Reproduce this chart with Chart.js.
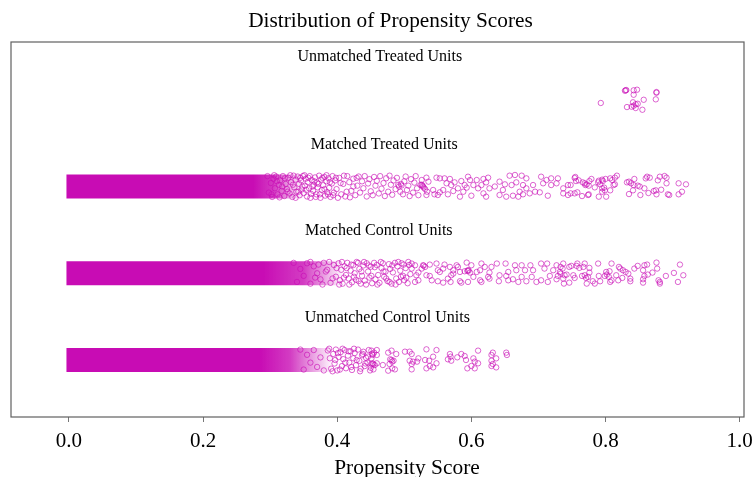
<!DOCTYPE html>
<html><head><meta charset="utf-8">
<style>html,body{margin:0;padding:0;background:#fff}#w{width:756px;height:477px}</style>
<script src="https://cdn.jsdelivr.net/npm/chart.js@4"></script></head>
<body><div id="w"><canvas id="c" width="756" height="477"></canvas></div>
<script>
const tickValues=[0,0.2,0.4,0.6,0.8,1.0];
const rowNames=['Unmatched Control Units','Matched Control Units','Matched Treated Units','Unmatched Treated Units'];
const chartTitle='Distribution of Propensity Scores';
const xTitle='Propensity Score';
// saturated part of each row: [end of solid region, end of strong region, end of the fading region]
const denseUnmatchedControl=[0.285,0.330,0.395];
const denseMatchedControl=[0.290,0.350,0.410];
const denseMatchedTreated=[0.275,0.305,0.350];
const denseStart=-0.004;
const denseHalfHeight=0.138;
// [propensity score, vertical jitter]
const unmatchedTreated=[[.793,-.037],[.830,.109],[.829,.104],[.831,.112],[.842,.109],[.847,.116],[.842,.058],[.876,.089],[.876,.081],[.857,0],[.875,.005],[.841,-.029],[.848,-.046],[.845,-.052],[.842,-.069],[.839,-.08],[.832,-.084],[.845,-.095],[.855,-.115]];
const matchedTreated=[
[.755,.11],[.754,.098],[.760,.071],[.756,.063],[.766,.048],[.769,.037],[.770,.017],[.772,.025],[.775,.01],[.779,.087],[.776,.063],[.784,-.01],[.790,.067],[.789,.048],[.795,.079],[.796,.063],[.792,.025],[.800,.087],[.807,.094],[.814,.102],[.817,.125],[.810,.075],[.814,.025],[.812,.017],[.795,-.021],[.798,-.013],[.807,-.044],[.795,-.06],[.799,-.044],[.748,.017],[.748,-.079],[.754,-.079],[.758,-.067],[.765,-.11],[.774,-.098],[.775,-.09],[.790,-.117],[.801,-.117],[.835,.056],[.832,.048],[.838,.037],[.843,.087],[.842,.017],[.848,.01],[.851,0],[.858,-.021],[.862,.113],[.860,.094],[.866,.102],[.881,.113],[.888,.121],[.878,.071],[.891,.102],[.891,.037],[.841,-.044],[.835,-.087],[.852,-.098],[.864,-.075],[.872,-.052],[.875,-.044],[.883,-.037],[.876,-.09],[.893,-.09],[.895,-.098],[.909,.037],[.920,.025],[.914,-.06],[.909,-.09],
[.526,.075],[.533,.102],[.536,.056],[.524,.017],[.528,0],[.531,-.029],[.534,-.06],[.543,-.04],[.545,-.09],[.550,-.098],[.553,-.067],[.548,.102],[.553,.094],[.560,.094],[.568,.087],[.563,.037],[.570,.017],[.575,.048],[.585,.063],[.590,.017],[.595,.113],[.598,.075],[.608,.075],[.618,.087],[.625,.102],[.603,.017],[.610,-.021],[.615,.017],[.622,.048],[.627,-.021],[.635,0],[.642,.056],[.650,.025],[.657,.125],[.665,.133],[.675,.125],[.682,.094],[.667,.048],[.660,.017],[.677,.017],[.682,-.021],[.692,.017],[.695,-.06],[.702,-.067],[.704,.113],[.712,.075],[.719,.094],[.729,.094],[.707,.037],[.719,.017],[.727,.037],[.737,-.021],[.744,.017],[.714,-.106],[.737,-.079],[.744,-.098],[.558,-.04],[.565,-.09],[.573,-.052],[.583,-.117],[.588,-.06],[.600,-.106],[.618,-.079],[.622,-.117],[.642,-.098],[.652,-.117],[.662,-.106],[.670,-.117],[.677,-.09],[.672,-.06],[.647,-.04],[.687,-.079],[.533,-.098],[.580,-.021],[.593,-.013],[.527,.01],[.529,-.013],[.526,.021],
[.296,.12],[.298,-.07],[.301,.04],[.303,-.12],[.305,.09],[.307,-.02],[.309,.115],[.311,-.09],[.313,.02],[.315,.07],[.317,-.05],[.319,.12],[.321,-.11],[.323,.03],[.325,-.03],[.327,.1],[.329,-.08],[.331,.05],[.333,-.12],[.335,.125],[.336,-.01],[.338,.08],[.339,-.06],
[.341,.115],[.343,.03],[.344,-.1],[.346,.07],[.347,-.035],[.349,.12],[.350,-.075],[.352,.01],[.353,.09],[.355,-.115],[.356,.05],[.358,-.02],[.359,.12],[.361,-.085],[.362,.075],[.364,-.05],[.365,.02],[.367,.105],[.368,-.12],[.370,.045],[.371,-.01],[.373,.125],[.374,-.09],[.376,.08],[.377,-.04],[.379,.015],[.381,.11],[.382,-.105],[.384,.06],[.385,-.065],[.387,.095],[.388,-.015],[.390,-.12],[.392,.035],[.393,.12],[.395,-.07],[.397,.07],[.399,-.03],
[.403,.1],[.406,-.09],[.409,.03],[.412,-.115],[.415,.12],[.418,.05],[.421,-.05],[.424,.09],[.427,-.1],[.430,.01],[.432,.115],[.434,-.07],[.437,.06],[.439,-.02],[.441,.12],[.444,-.115],[.446,.035],[.448,.085],[.450,-.055],[.453,-.1],[.455,.11],[.457,.01],[.459,.065],[.462,-.08],[.464,.12],[.466,-.025],[.469,.04],[.471,-.11],[.473,.095],[.476,-.06],[.478,.125],[.480,.02],[.482,-.095],[.484,.07],[.487,-.03],[.489,.1],[.491,.02],[.492,.0],[.494,-.06],[.495,.03],[.496,.012],[.498,-.09],[.500,.06],[.502,.115],[.504,-.04],[.506,.01],[.508,-.11],[.510,.085],[.513,-.07],[.515,.045],[.517,.12],[.519,-.02],[.521,-.1],
[.302,-.09],[.306,.13],[.31,.06],[.314,-.125],[.318,.0],[.322,.095],[.326,-.06],[.33,.13],[.334,.02],[.338,-.13],[.342,-.06],[.345,.1],[.348,.0],[.351,.13],[.354,-.04],[.357,.1],[.36,-.13],[.363,.0],[.366,.06],[.369,-.09],[.372,.03],[.375,-.13],[.378,.1],[.381,-.03],[.384,.13],[.386,-.09],[.389,.05],[.394,-.1],[.398,.1],[.401,-.13],[.405,.04],[.41,.125],[.414,-.06],[.419,-.125],[.424,.0],[.429,.1]];
const matchedControl=[
[.737,.112],[.733,.073],[.736,.054],[.746,.073],[.749,.085],[.758,.112],[.757,.085],[.761,.062],[.769,.112],[.767,.073],[.776,.062],[.776,.008],[.789,.112],[.809,.112],[.733,-.004],[.739,-.023],[.742,-.015],[.737,-.062],[.752,-.023],[.754,-.054],[.765,-.031],[.769,-.023],[.771,-.054],[.774,-.042],[.738,-.119],[.746,-.108],[.772,-.119],[.781,-.092],[.784,-.119],[.790,-.031],[.792,-.092],[.799,-.031],[.801,.015],[.806,.023],[.802,-.015],[.805,-.042],[.809,-.081],[.807,-.1],[.816,-.023],[.819,-.081],[.825,-.054],[.820,.073],[.822,.054],[.826,.035],[.830,.015],[.834,-.004],[.837,-.062],[.837,-.092],[.843,.054],[.848,.085],[.856,.035],[.858,.092],[.862,.1],[.876,.123],[.877,.054],[.858,-.031],[.863,-.015],[.870,.008],[.856,-.069],[.856,-.108],[.879,-.081],[.881,-.1],[.881,-.119],[.890,-.031],[.902,.004],[.911,.1],[.916,-.023],[.908,-.1],
[.511,.112],[.516,.092],[.511,.054],[.521,.008],[.518,-.023],[.528,.092],[.531,.073],[.526,.054],[.538,.1],[.548,.112],[.560,.1],[.568,.073],[.558,.054],[.550,.035],[.578,.092],[.580,.073],[.583,.015],[.593,.123],[.600,.092],[.615,.112],[.620,.073],[.630,.073],[.638,.112],[.651,.112],[.665,.092],[.675,.092],[.688,.092],[.595,.035],[.598,.008],[.590,.023],[.608,.015],[.613,.035],[.627,.008],[.642,-.023],[.655,.015],[.667,.035],[.680,.035],[.692,.035],[.704,.112],[.713,.112],[.727,.092],[.709,.054],[.722,.035],[.732,.015],[.533,-.023],[.538,-.031],[.553,.015],[.570,-.023],[.573,-.004],[.521,-.081],[.541,-.081],[.550,-.092],[.558,-.108],[.565,-.062],[.569,-.1],[.583,-.092],[.585,-.108],[.595,-.1],[.603,-.042],[.613,-.081],[.615,-.1],[.625,-.042],[.627,-.062],[.641,-.092],[.652,-.031],[.655,-.081],[.662,-.069],[.670,-.1],[.675,-.042],[.682,-.092],[.690,-.042],[.697,-.1],[.704,-.081],[.714,-.1],[.727,-.069],[.717,-.031],[.729,-.031],[.516,-.1],[.573,.035],[.529,.088],[.596,.03],[.594,.027],
[.335,.12],[.340,-.1],[.345,.05],[.350,-.03],[.355,.115],[.360,-.12],[.365,.08],[.370,.0],[.375,-.07],[.380,.12],[.385,.04],[.390,-.11],[.395,.095],[.398,-.04],
[.402,.115],[.404,-.08],[.406,.04],[.408,-.12],[.411,.08],[.413,-.02],[.415,.12],[.417,-.06],[.420,.03],[.422,-.105],[.424,.095],[.426,.0],[.428,-.075],[.431,.12],[.433,.05],[.435,-.12],[.437,-.03],[.439,.09],[.441,-.085],[.444,.115],[.446,.02],[.448,-.05],[.450,.075],[.452,-.115],[.455,.12],[.457,-.07],[.459,.095],[.461,-.02],[.463,-.11],[.466,.06],[.468,.115],[.470,-.04],[.472,.02],[.475,-.09],[.477,.105],[.479,.05],[.481,-.12],[.483,.01],[.486,.12],[.488,-.06],[.490,.08],[.492,-.1],[.494,.03],[.496,.115],[.498,-.03],[.500,-.08],[.502,.06],[.505,-.115],[.507,.095],[.509,-.01],
[.36,.13],[.367,-.05],[.372,.1],[.378,-.13],[.383,.02],[.388,.13],[.393,-.06],[.399,.06],[.403,-.13],[.407,.13],[.41,-.05],[.414,.06],[.418,-.13],[.421,.1],[.425,-.04],[.429,.13],[.432,-.09],[.436,.02],[.44,.13],[.443,-.13],[.447,.09],[.451,-.03],[.456,.07],[.46,-.13],[.465,.13],[.469,.02],[.473,-.06],[.478,-.1],[.482,.09],[.487,-.13],[.491,.13],[.495,-.04],[.499,.1],[.503,-.05],[.506,.13]];
const unmatchedControl=[
[.451,.108],[.453,.058],[.459,.115],[.459,.058],[.451,.019],[.451,-.046],[.456,-.058],[.459,-.038],[.454,-.108],[.468,-.058],[.476,.085],[.481,.108],[.488,.069],[.479,.008],[.482,-.019],[.484,-.008],[.478,-.046],[.476,-.123],[.482,-.096],[.486,-.108],[.501,.096],[.508,.096],[.511,.069],[.521,.019],[.519,-.019],[.508,-.008],[.511,-.046],[.513,-.019],[.511,-.108],[.531,0],[.537,-.008],[.543,.038],[.548,-.038],[.533,.123],[.548,.115],[.538,-.069],[.543,-.085],[.533,-.096],[.568,.069],[.569,.038],[.565,.008],[.570,-.008],[.579,.031],[.585,.069],[.590,.046],[.592,0],[.610,.108],[.603,.019],[.605,-.019],[.610,-.038],[.600,-.069],[.594,-.096],[.605,-.096],[.632,.085],[.630,.058],[.637,.019],[.630,-.008],[.632,-.046],[.637,-.085],[.630,-.069],[.652,.085],[.653,.058],[.452,.07],[.455,.085],[.453,-.04],[.454,-.05],[.481,0],
[.386,.11],[.389,.02],[.391,-.1],[.394,.07],[.396,-.04],[.398,.12],[.400,-.12],[.402,.035],[.405,.09],[.407,-.07],[.409,.01],[.411,.115],[.413,-.095],[.416,.05],[.418,-.03],[.420,.1],[.422,-.115],[.424,.02],[.426,.08],[.428,-.06],[.431,.12],[.433,-.01],[.435,-.1],[.437,.055],[.439,.095],[.441,-.07],[.443,.025],[.445,-.03],[.447,.115],[.449,-.12],
[.345,.12],[.350,-.11],[.355,.06],[.360,-.03],[.365,.115],[.370,-.08],[.375,.03],[.380,-.12],
[.388,.13],[.393,-.13],[.397,.0],[.401,.08],[.404,-.11],[.408,.13],[.412,-.03],[.417,.1],[.421,-.08],[.425,.13],[.429,.0],[.434,-.13],[.438,.07],[.442,-.04],[.446,.04],[.45,-.09]];

function points(list,row){return list.map(p=>({x:p[0],y:row+p[1]}));}
const ringColor='rgba(200,10,180,0.62)';
function ringSet(list,row){return {data:points(list,row),showLine:false,pointRadius:2.7,pointHoverRadius:2.7,pointBorderWidth:1,pointBorderColor:ringColor,pointBackgroundColor:'rgba(0,0,0,0)',order:0};}
function denseFill(stages){return function(ctx){
 const sx=ctx.chart.scales.x;
 if(!ctx.chart.chartArea||!sx) return '#c80cb4';
 const a=sx.getPixelForValue(denseStart),b=sx.getPixelForValue(stages[2]);
 const g=ctx.chart.ctx.createLinearGradient(a,0,b,0);
 const at=v=>(sx.getPixelForValue(v)-a)/(b-a);
 g.addColorStop(0,'rgba(200,12,180,1)');
 g.addColorStop(at(stages[0]),'rgba(200,12,180,1)');
 g.addColorStop(at(stages[1]),'rgba(200,12,180,0.8)');
 g.addColorStop(1,'rgba(200,12,180,0)');
 return g;};}
function denseRow(stages,row){return [
 {data:[{x:denseStart,y:row+denseHalfHeight},{x:stages[2],y:row+denseHalfHeight}],showLine:true,borderWidth:0,pointRadius:0,fill:'+1',backgroundColor:denseFill(stages),order:2},
 {data:[{x:denseStart,y:row-denseHalfHeight},{x:stages[2],y:row-denseHalfHeight}],showLine:true,borderWidth:0,pointRadius:0,fill:false,order:2}];}
const datasets=[
 ...denseRow(denseUnmatchedControl,0),...denseRow(denseMatchedControl,1),...denseRow(denseMatchedTreated,2),
 ringSet(unmatchedControl,0),ringSet(matchedControl,1),ringSet(matchedTreated,2),ringSet(unmatchedTreated,3)];

const labelX=[0.4747,0.462,0.470,0.4635];
const labelY=[0.484,1.489,2.479,3.492];
const textPlugin={id:'texts',afterDraw(ch){
 const c=ch.ctx,a=ch.chartArea,sx=ch.scales.x,sy=ch.scales.y;
 c.save();c.strokeStyle='#606060';c.lineWidth=1.2;c.strokeRect(a.left,a.top,a.width,a.height);
 c.fillStyle='#000';c.textAlign='center';c.textBaseline='middle';
 c.font='16px "Liberation Serif"';
 rowNames.forEach((t,i)=>c.fillText(t,sx.getPixelForValue(labelX[i]),sy.getPixelForValue(labelY[i])));
 c.font='21.3px "Liberation Serif"';c.fillText(chartTitle,390.5,21);
 c.font='21.4px "Liberation Serif"';c.fillText(xTitle,407,468.5);
 c.restore();}};
new Chart(document.getElementById('c'),{type:'scatter',data:{datasets},plugins:[textPlugin],options:{
 responsive:false,animation:false,
 layout:{padding:{left:11,right:12,top:42,bottom:0}},
 plugins:{legend:{display:false},tooltip:{enabled:false}},
 scales:{
  x:{type:'linear',min:-0.0864,max:1.0065,
   afterBuildTicks(s){s.ticks=tickValues.map(v=>({value:v}));},
   afterFit(s){s.height=60;s.paddingLeft=0;s.paddingRight=0;},
   grid:{drawOnChartArea:false,drawTicks:true,tickLength:5,tickColor:'#777'},
   border:{display:false},
   ticks:{autoSkip:false,maxRotation:0,padding:7,color:'#000',font:{family:'"Liberation Serif"',size:21},callback:v=>v.toFixed(1)}},
  y:{type:'linear',display:false,min:-0.657,max:3.666}
 }}});
</script></body></html>
